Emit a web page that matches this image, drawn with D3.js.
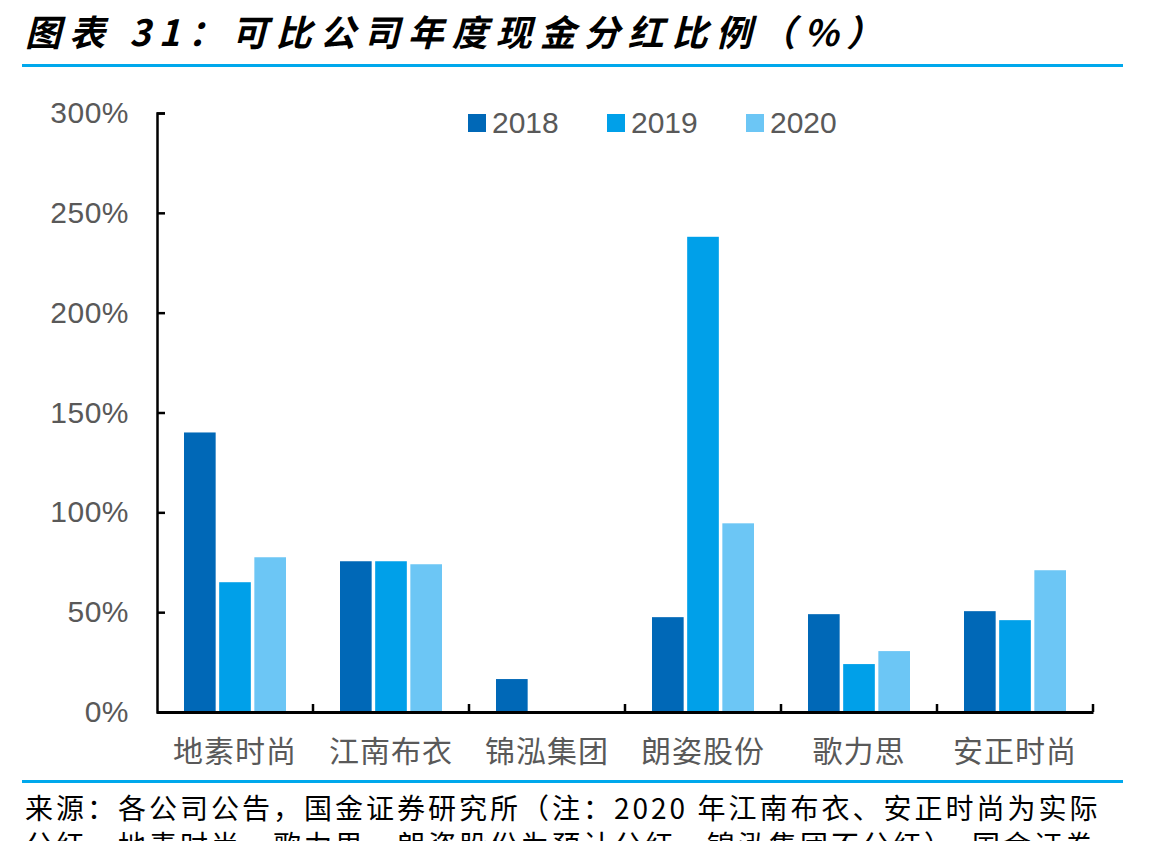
<!DOCTYPE html>
<html>
<head>
<meta charset="utf-8">
<style>
  body { margin: 0; background: #fff; }
  svg { display: block; }
</style>
</head>
<body>
<div id="chart"></div>
<script src="https://d3js.org/d3.v7.min.js"></script>
<script>
// data
var companies = ["地素时尚", "江南布衣", "锦泓集团", "朗姿股份", "歌力思", "安正时尚"];
var years = ["2018", "2019", "2020"];
var v2018 = [140, 75.5, 16.5, 47.5, 49, 50.5];
var v2019 = [65, 75.5, 0, 238, 24, 46];
var v2020 = [77.5, 74, 0, 94.5, 30.5, 71];
var yTicks = [0, 50, 100, 150, 200, 250, 300];
var colors = ["#0068b7", "#00a0e9", "#6cc6f5"];

var series = [v2018, v2019, v2020];

var W = 1165, H = 841;
var svg = d3.select("#chart").append("svg")
  .attr("width", W).attr("height", H);

// title + rules
svg.append("text")
  .attr("x", 25).attr("y", 46)
  .attr("font-family", "'Noto Sans CJK SC', sans-serif")
  .attr("font-weight", "bold")
  .attr("font-style", "italic")
  .attr("font-size", 36)
  .attr("letter-spacing", 8)
  .attr("fill", "#000")
  .text("图表 31：可比公司年度现金分红比例（%）");

svg.append("rect").attr("x", 22).attr("y", 64).attr("width", 1101).attr("height", 3).attr("fill", "#00a8ec");
svg.append("rect").attr("x", 22).attr("y", 780).attr("width", 1101).attr("height", 3).attr("fill", "#00a8ec");

var plotL = 157, plotR = 1093, plotT = 113, plotB = 712;

var y = d3.scaleLinear().domain([0, 300]).range([plotB, plotT]);
var x = d3.scaleBand().domain(companies).range([plotL, plotR]).padding(0);
var xs = d3.scaleBand().domain(years).range([27, 129]).paddingInner(0.1);

// bars
var g = svg.append("g");
series.forEach(function(vals, si) {
  g.selectAll(null)
    .data(vals.map(function(v, i) { return { c: companies[i], v: v }; }).filter(function(d) { return d.v > 0; }))
    .enter().append("rect")
    .attr("x", function(d) { return x(d.c) + xs(years[si]); })
    .attr("y", function(d) { return y(d.v); })
    .attr("width", xs.bandwidth())
    .attr("height", function(d) { return plotB - y(d.v); })
    .attr("fill", colors[si]);
});

// y axis
var yAxis = svg.append("g")
  .attr("transform", "translate(" + plotL + ",0)")
  .call(d3.axisLeft(y).tickValues(yTicks).tickSizeInner(-8).tickSizeOuter(-8).tickPadding(28)
    .tickFormat(function(d) { return d + "%"; }));
yAxis.select(".domain").attr("stroke", "#000").attr("stroke-width", 2.5);
yAxis.selectAll(".tick line").attr("stroke", "#000").attr("stroke-width", 2.5);
yAxis.selectAll("text")
  .attr("font-family", "'Liberation Sans', Arial, sans-serif")
  .attr("font-size", 30)
  .attr("letter-spacing", 0.5)
  .attr("fill", "#595959");

// x axis
var xAxis = svg.append("g")
  .attr("transform", "translate(0," + plotB + ")")
  .call(d3.axisBottom(x).tickSize(0).tickPadding(29));
xAxis.select(".domain").attr("stroke", "#000").attr("stroke-width", 3);
xAxis.selectAll("text")
  .attr("font-family", "'Noto Sans CJK SC', sans-serif")
  .attr("font-size", 30)
  .attr("letter-spacing", 1)
  .attr("fill", "#595959");
xAxis.selectAll(null)
  .data(companies)
  .enter().append("line")
  .attr("x1", function(d) { return x(d) + x.step(); })
  .attr("x2", function(d) { return x(d) + x.step(); })
  .attr("y1", 0).attr("y2", -8)
  .attr("stroke", "#000").attr("stroke-width", 2.5);

// legend
var lg = svg.append("g").attr("transform", "translate(468,114)");
years.forEach(function(yr, i) {
  var item = lg.append("g").attr("transform", "translate(" + (i * 139) + ",0)");
  item.append("rect").attr("width", 18).attr("height", 18).attr("fill", colors[i]);
  item.append("text")
    .attr("x", 24).attr("y", 19)
    .attr("font-family", "'Liberation Sans', Arial, sans-serif")
    .attr("font-size", 30)
    .attr("fill", "#595959")
    .text(yr);
});

// source note
var note = svg.append("text")
  .attr("font-family", "'Noto Sans CJK SC', sans-serif")
  .attr("font-size", 28)
  .attr("letter-spacing", 3)
  .attr("fill", "#000");
note.append("tspan").attr("x", 25).attr("y", 819)
  .text("来源：各公司公告，国金证券研究所（注：2020 年江南布衣、安正时尚为实际");
note.append("tspan").attr("x", 25).attr("y", 856)
  .text("分红，地素时尚、歌力思、朗姿股份为预计分红，锦泓集团不分红），国金证券");
</script>
</body>
</html>
